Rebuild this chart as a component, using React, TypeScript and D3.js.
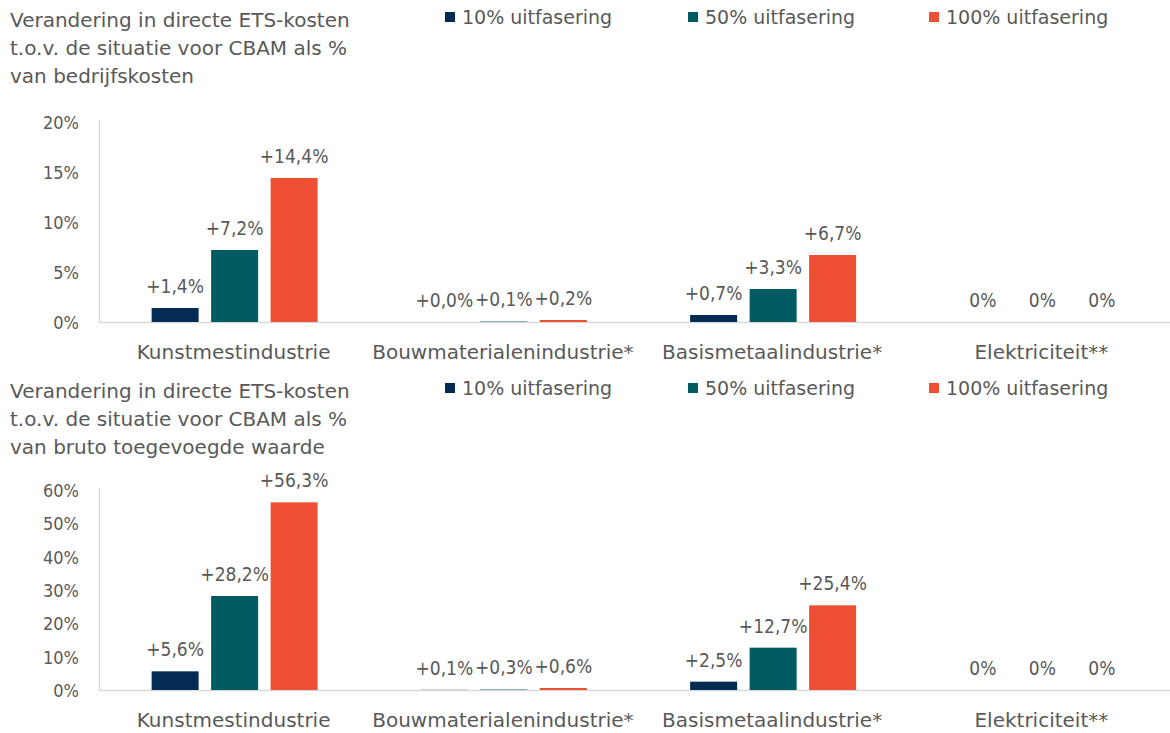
import * as React from 'react';
import * as d3 from 'd3';

const dimensions = { width: 1170, height: 733 };

const categories = [
  'Kunstmestindustrie',
  'Bouwmaterialenindustrie*',
  'Basismetaalindustrie*',
  'Elektriciteit**',
];
const seriesNames = ['10% uitfasering', '50% uitfasering', '100% uitfasering'];
const seriesColors = ['#032b53', '#005b62', '#ef4f32'];

// % van bedrijfskosten
const costs10 = [1.4, 0.0, 0.7, 0];
const costs50 = [7.2, 0.1, 3.3, 0];
const costs100 = [14.4, 0.2, 6.7, 0];
const costTicks = [0, 5, 10, 15, 20];

// % van bruto toegevoegde waarde
const gva10 = [5.6, 0.1, 2.5, 0];
const gva50 = [28.2, 0.3, 12.7, 0];
const gva100 = [56.3, 0.6, 25.4, 0];
const gvaTicks = [0, 10, 20, 30, 40, 50, 60];

const titleCosts = [
  'Verandering in directe ETS-kosten',
  't.o.v. de situatie voor CBAM als %',
  'van bedrijfskosten',
];
const titleGva = [
  'Verandering in directe ETS-kosten',
  't.o.v. de situatie voor CBAM als %',
  'van bruto toegevoegde waarde',
];

const wide = '"DejaVu Sans", sans-serif';
const narrow = '"DejaVu Sans Condensed", "DejaVu Sans", sans-serif';
const textColor = '#595959';

const fmt = (v: number) => `+${v.toFixed(1).replace('.', ',')}%`;

interface PanelProps {
  top: number;
  headerTop: number;
  title: string[];
  series: number[][];
  ticks: number[];
  plainZero: boolean[];
}

const Panel: React.FC<PanelProps> = ({ top, headerTop, title, series, ticks, plainZero }) => {
  const axisTop = top + 122;
  const axisBottom = top + 322;
  const x = d3.scaleBand(categories, [99, 1176]);
  const inner = d3.scaleBand(d3.range(series.length), [0, 166]).paddingInner(0.21);
  const groupOffset = (x.bandwidth() - 166) / 2 + 1;
  const y = d3.scaleLinear([0, d3.max(ticks)!], [axisBottom, axisTop]);
  const legendX = [445, 688, 929];

  return (
    <g fill={textColor}>
      {title.map((line, i) => (
        <text key={i} x={10} y={headerTop + 27 + i * 28} fontSize={20} fontFamily={wide}>
          {line}
        </text>
      ))}
      {seriesNames.map((name, i) => (
        <g key={name}>
          <rect x={legendX[i]} y={headerTop + 12} width={10} height={10} fill={seriesColors[i]} />
          <text x={legendX[i] + 17} y={headerTop + 24} fontSize={19} fontFamily={wide}>
            {name}
          </text>
        </g>
      ))}
      {ticks.map((t) => (
        <text key={t} x={79} y={y(t) + 7} fontSize={18} fontFamily={narrow} textAnchor="end">
          {t}%
        </text>
      ))}
      <line x1={99.5} x2={99.5} y1={axisTop - 2} y2={axisBottom} stroke="#d9d9d9" strokeWidth={1.5} />
      <line x1={99} x2={1170} y1={axisBottom + 0.5} y2={axisBottom + 0.5} stroke="#d9d9d9" strokeWidth={1.5} />
      {categories.map((c, ci) => (
        <g key={c}>
          {series.map((values, si) => {
            const v = values[ci];
            const bx = x(c)! + groupOffset + inner(si)!;
            const cx = bx + inner.bandwidth() / 2;
            return (
              <g key={si}>
                <rect
                  x={bx}
                  y={y(v)}
                  width={inner.bandwidth()}
                  height={axisBottom - y(v)}
                  fill={seriesColors[si]}
                  fillOpacity={v > 0 && axisBottom - y(v) < 1.5 ? 0.45 : 1}
                />
                <text x={cx} y={y(v) - 15} fontSize={19} fontFamily={narrow} textAnchor="middle">
                  {plainZero[ci] ? '0%' : fmt(v)}
                </text>
              </g>
            );
          })}
          <text
            x={x(c)! + x.bandwidth() / 2}
            y={axisBottom + 37}
            fontSize={20}
            fontFamily={wide}
            textAnchor="middle"
          >
            {c}
          </text>
        </g>
      ))}
    </g>
  );
};

const App: React.FC = () => {
  const plainZero = [false, false, false, true];
  return (
    <svg
      width={dimensions.width}
      height={dimensions.height}
      viewBox={`0 0 ${dimensions.width} ${dimensions.height}`}
      style={{ position: 'absolute', left: 0, top: 0, background: '#fff' }}
    >
      <Panel top={0} headerTop={0} title={titleCosts} series={[costs10, costs50, costs100]} ticks={costTicks} plainZero={plainZero} />
      <Panel top={368} headerTop={371} title={titleGva} series={[gva10, gva50, gva100]} ticks={gvaTicks} plainZero={plainZero} />
    </svg>
  );
};

export default App;
